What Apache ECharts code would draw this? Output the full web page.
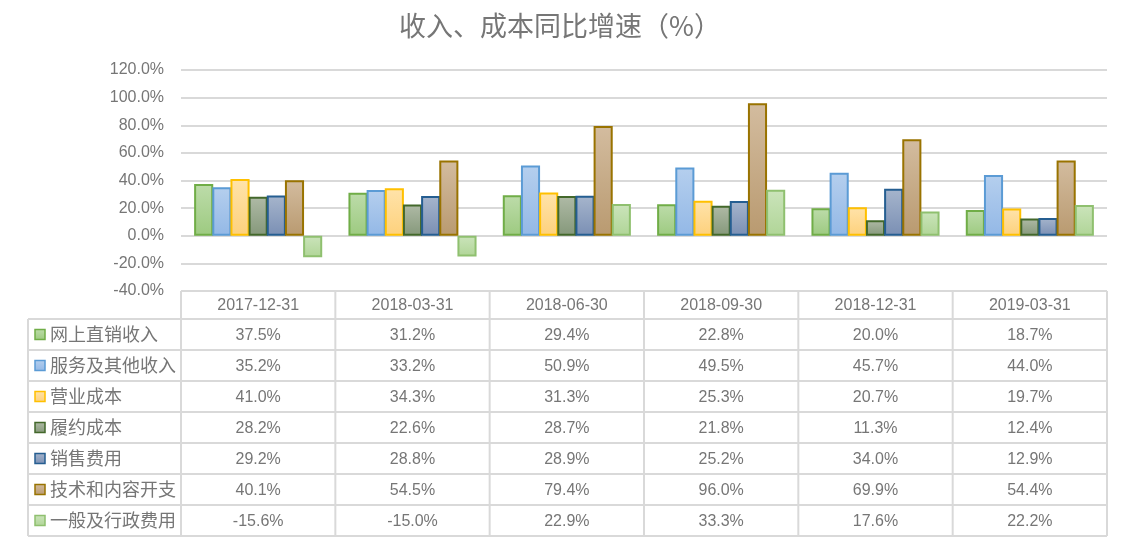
<!DOCTYPE html>
<html><head><meta charset="utf-8">
<script src="https://cdn.jsdelivr.net/npm/echarts@6/dist/echarts.min.js"></script>
<style>html,body{margin:0;padding:0;background:#fff}#c{width:1124px;height:545px}</style>
</head><body><div id="c"></div>
<script>
const title = '收入、成本同比增速（%）';
const categories = ['2017-12-31','2018-03-31','2018-06-30','2018-09-30','2018-12-31','2019-03-31'];
const seriesNames = ['网上直销收入','服务及其他收入','营业成本','履约成本','销售费用','技术和内容开支','一般及行政费用'];
const s1 = [37.5, 31.2, 29.4, 22.8, 20.0, 18.7];
const s2 = [35.2, 33.2, 50.9, 49.5, 45.7, 44.0];
const s3 = [41.0, 34.3, 31.3, 25.3, 20.7, 19.7];
const s4 = [28.2, 22.6, 28.7, 21.8, 11.3, 12.4];
const s5 = [29.2, 28.8, 28.9, 25.2, 34.0, 12.9];
const s6 = [40.1, 54.5, 79.4, 96.0, 69.9, 54.4];
const s7 = [-15.6, -15.0, 22.9, 33.3, 17.6, 22.2];
const seriesData = [s1, s2, s3, s4, s5, s6, s7];
const yMin = -40, yMax = 120, yStep = 20;

const styles = [
  {border:'#70AD47', top:'#bddcaa', bot:'#9dca80'},
  {border:'#5B9BD5', top:'#b5cfee', bot:'#93b8e6'},
  {border:'#FFC000', top:'#ffe3aa', bot:'#fdd17c'},
  {border:'#43682B', top:'#afbaa6', bot:'#85987a'},
  {border:'#255E91', top:'#a6b5cc', bot:'#7a8fb4'},
  {border:'#997300', top:'#d3bc9f', bot:'#b99a70'},
  {border:'#8FC06F', top:'#cbe4bb', bot:'#b0d597'}
];
const grad = s => new echarts.graphic.LinearGradient(0,0,0,1,[{offset:0,color:s.top},{offset:1,color:s.bot}]);
const txt = '#767676', lineC = '#d9d9d9';
const fmt = v => v.toFixed(1) + '%';

const chart = echarts.init(document.getElementById('c'), null, {renderer:'canvas'});
const option = {
  animation:false,
  backgroundColor:'#fff',
  title:{text:title, left:555, top:7, textAlign:'center',
    textStyle:{fontFamily:'Noto Sans CJK SC', fontSize:27, fontWeight:'normal', color:'#767676'}},
  grid:{left:181, right:17, top:70, bottom:254, containLabel:false},
  xAxis:{type:'category', data:categories, axisLine:{show:false}, axisTick:{show:false}, axisLabel:{show:false}},
  yAxis:{type:'value', min:yMin, max:yMax, interval:yStep,
    axisLine:{show:false}, axisTick:{show:false},
    axisLabel:{formatter:v=>fmt(v), color:txt, fontSize:16, fontFamily:'Liberation Sans', margin:17},
    splitLine:{lineStyle:{color:lineC, width:2}}},
  series: seriesData.map((d,i)=>({
    name:seriesNames[i], type:'bar', data:d, barGap:'-5%', barCategoryGap:'17%',
    itemStyle:{color:grad(styles[i]), borderColor:styles[i].border, borderWidth:2}
  }))
};
chart.setOption(option);

// data table built from the axis scale
const x0 = chart.convertToPixel({xAxisIndex:0}, categories[0]);
const x1 = chart.convertToPixel({xAxisIndex:0}, categories[1]);
const band = x1 - x0;
const left = x0 - band/2;
const right = left + band*categories.length;
const tableTop = chart.convertToPixel({yAxisIndex:0}, yMin);
const headH = 28, rowH = 31, tableLeft = 28;
const rowsTop = tableTop + headH;
const bottom = rowsTop + rowH*seriesNames.length;
const g = [];
const line = (xa,ya,xb,yb) => g.push({type:'line', shape:{x1:xa,y1:ya,x2:xb,y2:yb}, style:{stroke:lineC, lineWidth:2}, silent:true});
for (let c=0;c<=categories.length;c++) line(left+band*c, tableTop, left+band*c, bottom);
line(tableLeft, rowsTop, tableLeft, bottom);
line(left, tableTop, right, tableTop);
for (let r=0;r<=seriesNames.length;r++) line(tableLeft, rowsTop+rowH*r, right, rowsTop+rowH*r);
categories.forEach((c,i)=>g.push({type:'text', x:left+band*(i+0.5), y:tableTop+headH/2+1,
  style:{text:c, fill:txt, font:'16px "Liberation Sans"', textAlign:'center', textVerticalAlign:'middle'}}));
seriesNames.forEach((n,r)=>{
  const cy = rowsTop + rowH*(r+0.5);
  g.push({type:'rect', shape:{x:35, y:cy-5, width:10, height:10}, style:{fill:grad(styles[r]), stroke:styles[r].border, lineWidth:1.5}});
  g.push({type:'text', x:50, y:cy, style:{text:n, fill:txt, font:'18px "Noto Sans CJK SC"', textAlign:'left', textVerticalAlign:'middle'}});
  seriesData[r].forEach((v,i)=>g.push({type:'text', x:left+band*(i+0.5), y:cy+1,
    style:{text:fmt(v), fill:txt, font:'16px "Liberation Sans"', textAlign:'center', textVerticalAlign:'middle'}}));
});
chart.setOption({graphic:g});
</script></body></html>
